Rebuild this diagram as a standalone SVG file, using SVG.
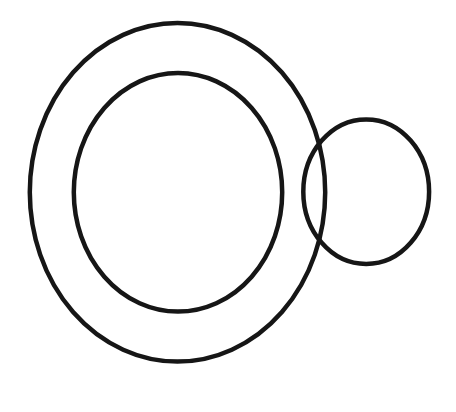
<svg xmlns="http://www.w3.org/2000/svg" width="456" height="412" viewBox="0 0 456 412">
<style>
.ring{fill:none;stroke:#161616;stroke-width:4.5}
</style>
<rect width="456" height="412" fill="#ffffff"/>
<g id="outer"><ellipse class="ring" cx="177.5" cy="192.3" rx="147.7" ry="169.3"/></g>
<g id="inner"><ellipse class="ring" cx="178" cy="192.3" rx="104.2" ry="119.3"/></g>
<g id="small"><ellipse class="ring" cx="366.2" cy="191.7" rx="62.9" ry="72.3"/></g>
<g id="connectors"></g>
</svg>
